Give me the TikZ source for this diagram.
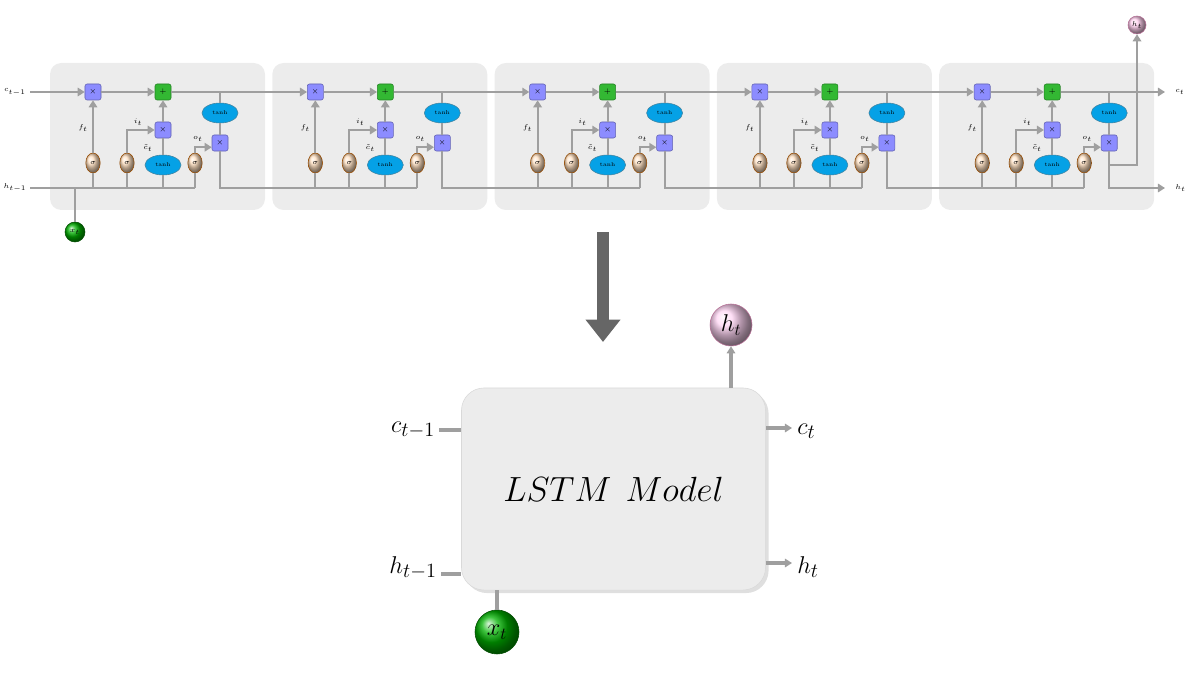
\documentclass[tikz,border=0pt]{standalone}
\usetikzlibrary{arrows.meta,shapes.geometric,shadows}
\begin{document}
\begin{tikzpicture}[x=0.025cm,y=-0.025cm,
  ln/.style={draw=gray!75,line width=1.5pt},
  ar/.style={ln,-{Triangle[length=5pt,width=6pt]}},
  cellbox/.style={fill=gray!15,rounded corners=8pt},
  gate/.style={rectangle,rounded corners=1.5pt,minimum size=0.4cm,inner sep=0pt,font=\fontsize{4}{4}\selectfont,draw=#1!70!black,fill=#1},
  sig/.style={ellipse,minimum width=0.36cm,minimum height=0.5cm,inner sep=0pt,draw=orange!60!black,ball color=orange!25!white,font=\fontsize{4}{4}\selectfont\itshape},
  tnh/.style={ellipse,minimum width=0.9cm,minimum height=0.5cm,inner sep=0pt,draw=cyan!60!black,fill=cyan!90!blue,font=\fontsize{4}{4}\selectfont},
  lab/.style={font=\fontsize{5.5}{5.5}\selectfont,inner sep=0pt},
  big/.style={font=\fontsize{19}{19}\selectfont,inner sep=0pt}]
\useasboundingbox (0,0) rectangle (1200,675);
\colorlet{gblue}{blue!45!white}
\colorlet{ggreen}{green!65!black!80!white}
\coordinate (cin) at (30,92);
\coordinate (hin) at (30,188);
\node[lab] at (15,92) {$c_{t-1}$};
\node[lab] at (15,188) {$h_{t-1}$};
\foreach \i in {1,...,5}{
  \pgfmathsetmacro{\xo}{50+222.3*(\i-1)}
  \fill[cellbox] (\xo,63) rectangle ++(215,147);
  \node[gate=gblue] (fm\i) at (\xo+43,92) {$\times$};
  \node[gate=ggreen] (ad\i) at (\xo+113,92) {$+$};
  \node[tnh] (tb\i) at (\xo+170,113) {tanh};
  \node[gate=gblue] (om\i) at (\xo+170,143) {$\times$};
  \node[gate=gblue] (im\i) at (\xo+113,130) {$\times$};
  \node[sig] (sa\i) at (\xo+43,163) {$\sigma$};
  \node[sig] (sb\i) at (\xo+77,163) {$\sigma$};
  \node[sig] (sc\i) at (\xo+145,163) {$\sigma$};
  \node[tnh] (ta\i) at (\xo+113,165) {tanh};
  \coordinate (ct\i) at (\xo+170,92);
  \coordinate (he\i) at (\xo+145,188);
  \node[lab] at (\xo+33,128) {$f_t$};
  \node[lab] at (\xo+88,122) {$i_t$};
  \node[lab,font=\fontsize{5}{5}\selectfont] at (\xo+98,148) {$\tilde c_t$};
  \node[lab] at (\xo+148,139) {$o_t$};
  \draw[ar] (sa\i) -- (fm\i);
  \draw[ar] (sb\i.north) |- (im\i.west);
  \draw[ln] (ta\i) -- (im\i);
  \draw[ar] (im\i) -- (ad\i);
  \draw[ar] (sc\i.north) |- ([yshift=-3pt]om\i.west);
  \draw[ln] (ct\i) -- (tb\i);
  \draw[ln] (tb\i) -- (om\i);
  \draw[ar] (fm\i) -- (ad\i);
  \foreach \n in {sa,sb,sc,ta}{\draw[ln] (\n\i.south) -- (\n\i |- he\i);}
}
\draw[ar] (cin) -- (fm1);
\foreach \i/\j in {1/2,2/3,3/4,4/5}{
  \draw[ar] (ad\i) -- (fm\j);
  \draw[ln] (om\i.south) |- (he\j);
}
\draw[ln] (hin) -- (he1);
\coordinate (cout) at (1165,92);
\coordinate (hout) at (1165,188);
\draw[ar] (ad5) -- (cout);
\node[lab,anchor=west] at (1175,92) {$c_t$};
\draw[ar] (om5.south) |- (hout);
\node[lab,anchor=west] at (1175,188) {$h_t$};
\node[circle,minimum size=0.45cm,inner sep=0pt,ball color=pink!70!magenta!40,draw=magenta!40!gray,font=\fontsize{4}{4}\selectfont] (hs) at (1137,25) {$h_t$};
\coordinate (hk) at (om5 |- 0,165);
\draw[ar] (om5.south) -- (hk) -| (hs);
\node[circle,minimum size=0.5cm,inner sep=0pt,ball color=green!70!black,draw=green!30!black,font=\fontsize{4}{4}\selectfont] (xs) at (75,232) {$x_t$};
\draw[ln] (xs) -- (xs |- hin);
% big arrow
\coordinate (ba) at (603,232);
\coordinate (bb) at (603,342);
\draw[draw=gray!80!black,line width=8pt,-{Triangle[length=16pt,width=24pt]}] (ba) -- (bb);
% model
\node[rounded corners=16pt,fill=gray!15,draw=gray!30,minimum width=7.6cm,minimum height=5.05cm,drop shadow={opacity=0.25},font=\fontsize{34}{34}\selectfont] (M) at (613.5,489) {$LSTM\ Model$};
\node[big] (cl) at (413,430) {$c_{t-1}$};
\node[big] (hl) at (413,568) {$h_{t-1}$};
\draw[ln,line width=3pt] (cl.east) ++(3pt,0) coordinate (c1) -- (M.west |- c1);
\draw[ln,line width=3pt] (hl.east) ++(3pt,-4pt) coordinate (h1) -- (M.west |- h1);
\coordinate (co) at (792,428);
\coordinate (ho) at (792,563);
\draw[ar,line width=3pt] (M.east |- co) -- (co);
\draw[ar,line width=3pt] (M.east |- ho) -- (ho);
\node[big,anchor=west] at (797,431) {$c_t$};
\node[big,anchor=west] at (797,567) {$h_t$};
\node[circle,minimum size=1.05cm,inner sep=0pt,ball color=pink!60!magenta!30,draw=magenta!40!gray,font=\fontsize{18}{18}\selectfont] (H) at (731,325) {$h_t$};
\draw[ar,line width=3pt] (M.north -| H) -- (H);
\node[circle,minimum size=1.1cm,inner sep=0pt,ball color=green!70!black,draw=green!30!black,font=\fontsize{18}{18}\selectfont] (X) at (497,632) {$x_t$};
\draw[ln,line width=3pt] (X) -- (X |- M.south);
\end{tikzpicture}
\end{document}
